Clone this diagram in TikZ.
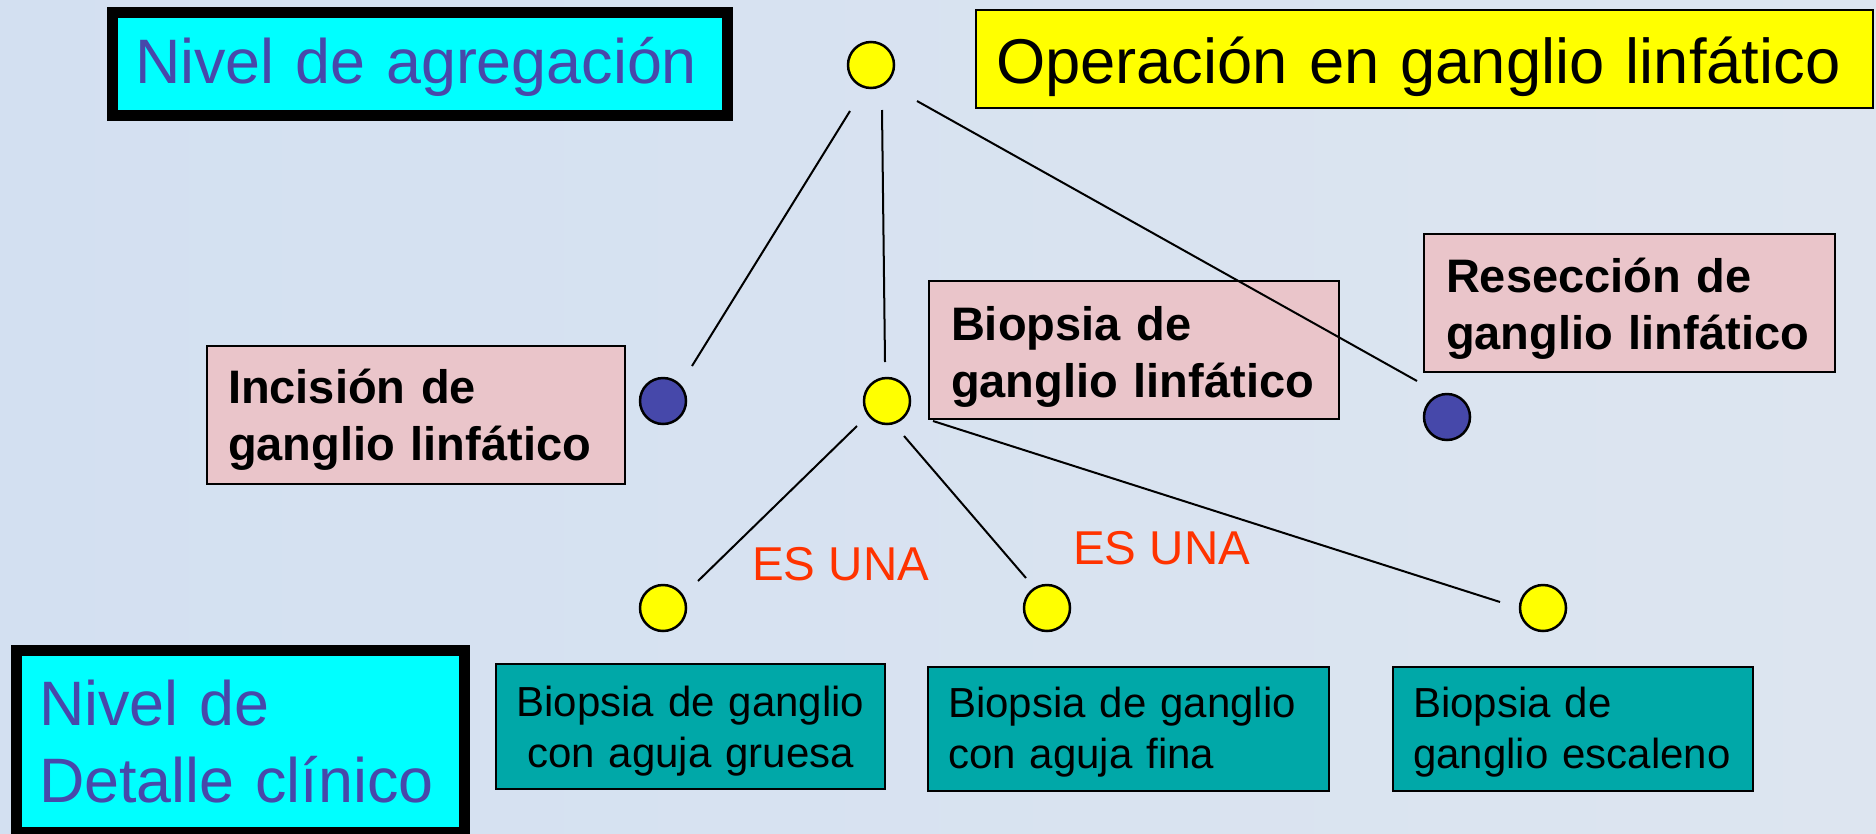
\documentclass[tikz,border=0pt]{standalone}
\usepackage{fontspec}
\setmainfont{Liberation Sans}
\usetikzlibrary{calc}
\definecolor{bgl}{RGB}{211,224,241}
\definecolor{bgr}{RGB}{221,229,240}
\definecolor{cyanbox}{RGB}{0,255,255}
\definecolor{levtext}{RGB}{72,72,170}
\definecolor{pinkfill}{RGB}{234,197,202}
\definecolor{tealfill}{RGB}{0,168,168}
\definecolor{dotyellow}{RGB}{255,255,0}
\definecolor{dotblue}{RGB}{70,72,170}
\definecolor{esred}{RGB}{255,51,0}
\newcommand{\topstrut}[1]{\rule{0pt}{#1}}
\newcommand{\botstrut}[1]{\rule[-#1]{0pt}{0pt}}
\begin{document}
\begin{tikzpicture}[x=1pt,y=-1pt,
  dot/.style={circle, draw=black, line width=2.5pt, minimum size=46pt, inner sep=0pt, outer sep=0pt},
  ydot/.style={dot, fill=dotyellow},
  bdot/.style={dot, fill=dotblue},
  link/.style={draw=black, line width=2pt},
  levelbox/.style={draw=black, line width=11pt, fill=cyanbox, text=levtext, align=left, inner sep=0pt, outer sep=0pt},
  opbox/.style={draw=black, line width=2.5pt, fill=dotyellow, text=black, align=left, inner sep=0pt, outer sep=0pt, font=\fontsize{63.3}{76}\selectfont},
  pinkbox/.style={draw=black, line width=2.5pt, fill=pinkfill, text=black, align=left, inner sep=0pt, outer sep=0pt, anchor=north west, minimum height=138pt, font=\bfseries\fontsize{47}{57}\selectfont},
  tealbox/.style={draw=black, line width=2.5pt, fill=tealfill, text=black, inner sep=0pt, outer sep=0pt, anchor=north west, font=\fontsize{42}{51}\selectfont},
  isa/.style={text=esred, anchor=base west, inner sep=0pt, font=\fontsize{47.5}{57}\selectfont}
]
\useasboundingbox (0,0) rectangle (1876,833);
\clip (0,0) rectangle (1876,833);
\shade[left color=bgl, right color=bgr] (0,0) rectangle (1876,833);

% level boxes
\node[levelbox, minimum width=615pt, minimum height=103pt, text width=570pt,
      text height=52pt, text depth=14pt,
      font=\fontsize{62.8}{76}\selectfont] (agg) at (420,64) {Nivel de agregación};
\node[levelbox, minimum width=448pt, minimum height=181.5pt, text width=403pt,
      font=\fontsize{62.8}{77}\selectfont] (det) at (240.5,741.25)
      {\topstrut{50pt}Nivel de\\Detalle clínico\botstrut{5.5pt}};

% top concept
\node[opbox, minimum width=897pt, minimum height=98pt, text width=857pt,
      text height=62pt, text depth=14pt] (op) at (1424.5,59) {Operación en ganglio linfático};

% pink boxes
\node[pinkbox, minimum width=418pt, text width=376pt] (inc) at (207,346)
  {\topstrut{45pt}Incisión de\\\mbox{ganglio linfático}\botstrut{12pt}};
\node[pinkbox, minimum width=410pt, text width=366pt] (bio) at (929,281)
  {\topstrut{49pt}Biopsia de\\\mbox{ganglio linfático}\botstrut{12pt}};
\node[pinkbox, minimum width=411pt, text width=367pt] (res) at (1424,234)
  {\topstrut{47pt}Resección de\\\mbox{ganglio linfático}\botstrut{12pt}};

% teal boxes
\node[tealbox, minimum width=389pt, minimum height=125pt, text width=360pt, align=center] (t1) at (496,664)
  {\topstrut{40pt}Biopsia de ganglio\\con aguja gruesa\botstrut{10pt}};
\node[tealbox, minimum width=401pt, minimum height=124pt, text width=361pt, align=left] (t2) at (928,667)
  {\topstrut{37pt}Biopsia de ganglio\\con aguja fina\botstrut{10pt}};
\node[tealbox, minimum width=360pt, minimum height=124pt, text width=320pt, align=left] (t3) at (1393,667)
  {\topstrut{37pt}Biopsia de\\\mbox{ganglio escaleno}\botstrut{10pt}};

% dots
\node[ydot] (c0) at (871,65) {};
\node[bdot] (cL) at (663,401) {};
\node[ydot] (cM) at (887,401) {};
\node[bdot] (cR) at (1447,417) {};
\node[ydot] (b1) at (663,608) {};
\node[ydot] (b2) at (1047,608) {};
\node[ydot] (b3) at (1543,608) {};

% connectors
\draw[link] ($(c0)+(-21,46)$) -- ($(cL)+(29,-35)$);
\draw[link] ($(c0)+(11,45)$) -- ($(cM)+(-2,-39)$);
\draw[link] ($(c0)+(46,36)$) -- ($(cR)+(-30,-36)$);
\draw[link] ($(cM)+(-30,25)$) -- ($(b1)+(35,-27)$);
\draw[link] ($(cM)+(17,35)$) -- ($(b2)+(-21,-30)$);
\draw[link] ($(cM)+(46,20)$) -- ($(b3)+(-43,-6)$);

% relation labels
\node[isa] (isa1) at (752,580) {ES UNA};
\node[isa] (isa2) at (1073,564) {ES UNA};
\end{tikzpicture}
\end{document}
